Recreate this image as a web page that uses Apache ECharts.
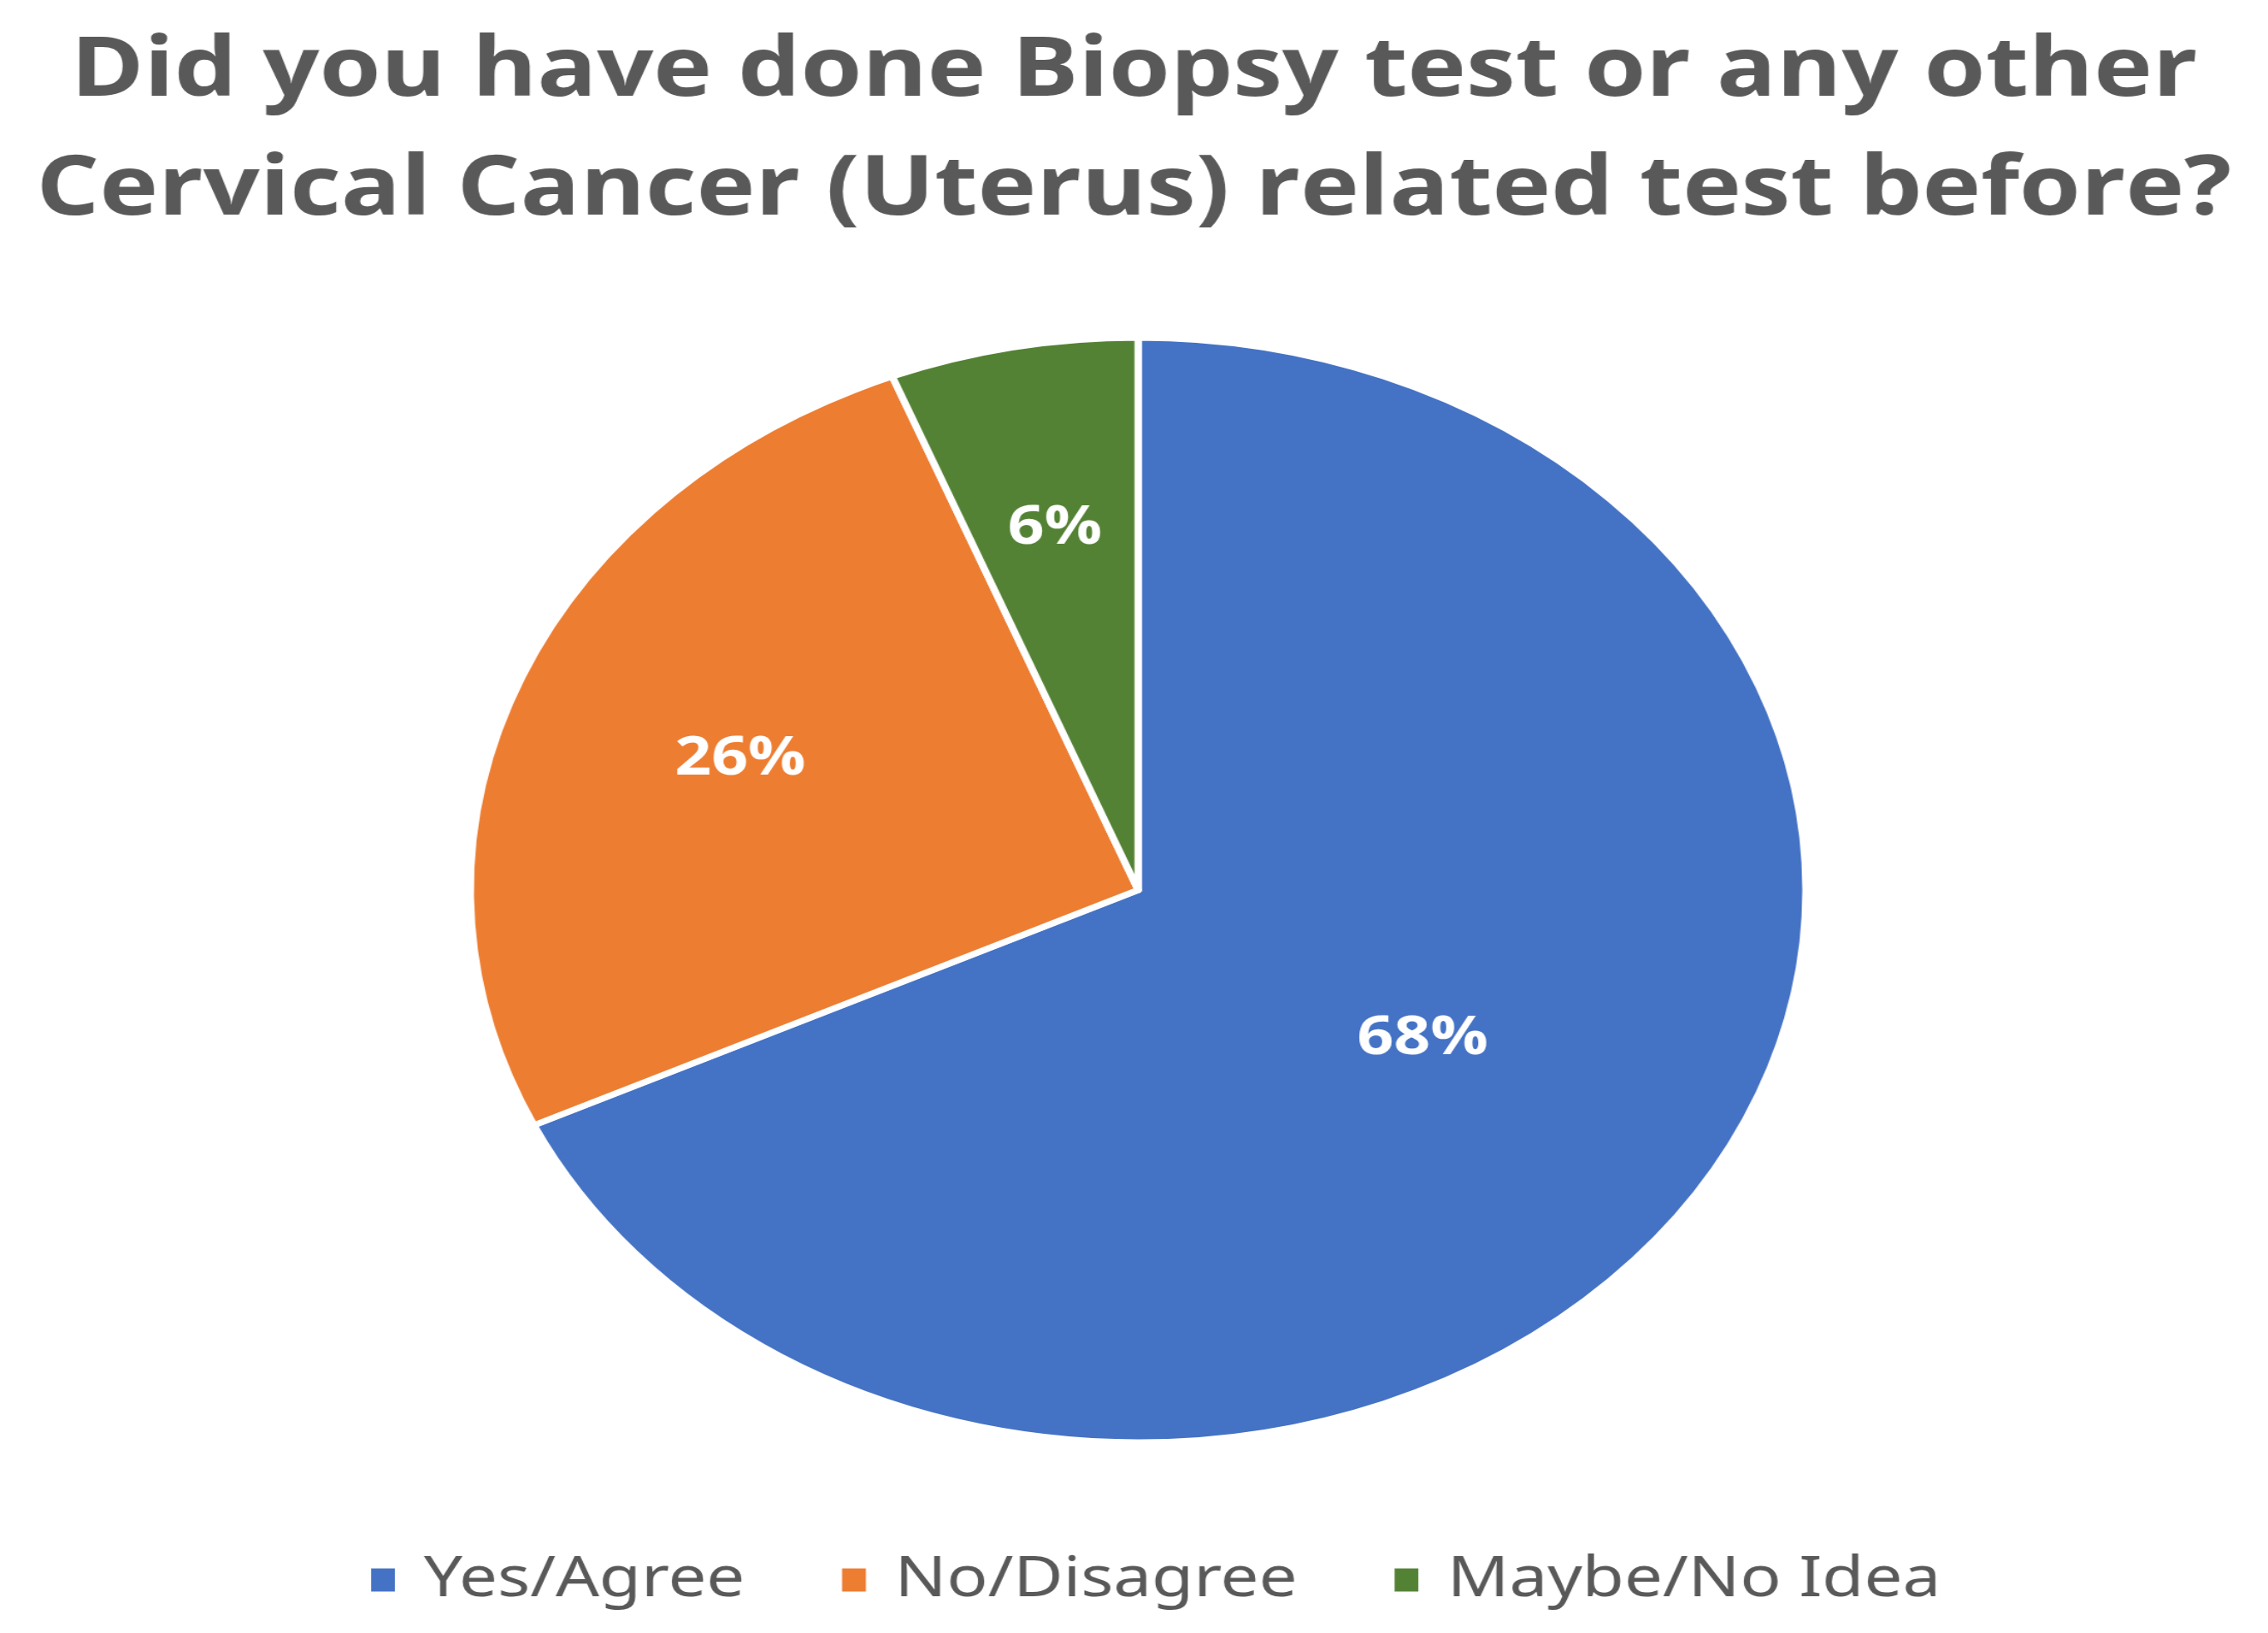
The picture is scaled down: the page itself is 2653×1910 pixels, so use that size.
<!DOCTYPE html>
<html>
<head>
<meta charset="utf-8">
<script src="https://cdn.jsdelivr.net/npm/echarts@6/dist/echarts.min.js"></script>
<style>
	html, body { margin: 0; padding: 0; background: #ffffff; overflow: hidden; }
	/* the source picture is stretched sideways, so the whole chart is widened */
	#myChart { width: 2194px; height: 1910px; transform: scaleX(1.2092); transform-origin: 0 0; }
</style>
</head>
<body>
<div id="myChart"></div>
<script>
	var titleText = 'Did you have done Biopsy test or any other\nCervical Cancer (Uterus) related test before?';
	var categories = ['Yes/Agree', 'No/Disagree', 'Maybe/No Idea'];
	var values = [68, 26, 6];
	var colors = ['#4472C4', '#ED7D31', '#548235'];

	var pieCenter = [1101, 1041];
	var labelPush = [1.0, 1.27, 1.32]; // small slices get their labels further out

	var myChart = echarts.init(document.getElementById('myChart'));
	var pieData = [];
	for (var i = 0; i < categories.length; i++) {
		pieData.push({ name: categories[i], value: values[i] });
	}
	myChart.setOption({
		animation: false,
		color: colors,
		title: {
			text: titleText,
			left: 'center',
			top: 10,
			textStyle: {
				fontFamily: 'Open Sans',
				fontWeight: 'bold',
				fontSize: 96,
				lineHeight: 139,
				color: '#595959'
			}
		},
		legend: {
			data: categories,
			left: 352,
			top: 1810,
			itemWidth: 25,
			itemHeight: 29,
			itemGap: 92,
			icon: 'rect',
			textStyle: {
				fontFamily: 'Noto Sans',
				fontSize: 66,
				color: '#595959',
				padding: [0, 0, 0, 22]
			}
		},
		series: [{
			type: 'pie',
			center: pieCenter,
			radius: 646,
			startAngle: 90,
			clockwise: true,
			data: pieData,
			itemStyle: {
				borderColor: '#ffffff',
				borderWidth: 7
			},
			label: {
				show: true,
				position: 'inside',
				formatter: '{d}%',
				fontFamily: 'Open Sans',
				fontWeight: 'bold',
				fontSize: 62,
				color: '#ffffff'
			},
			labelLine: { show: false },
			labelLayout: function (params) {
				var r = params.labelRect;
				var cx = r.x + r.width / 2;
				var cy = r.y + r.height / 2;
				var k = labelPush[params.dataIndex];
				return {
					x: pieCenter[0] + (cx - pieCenter[0]) * k,
					y: pieCenter[1] + (cy - pieCenter[1]) * k
				};
			}
		}]
	});
</script>
</body>
</html>
